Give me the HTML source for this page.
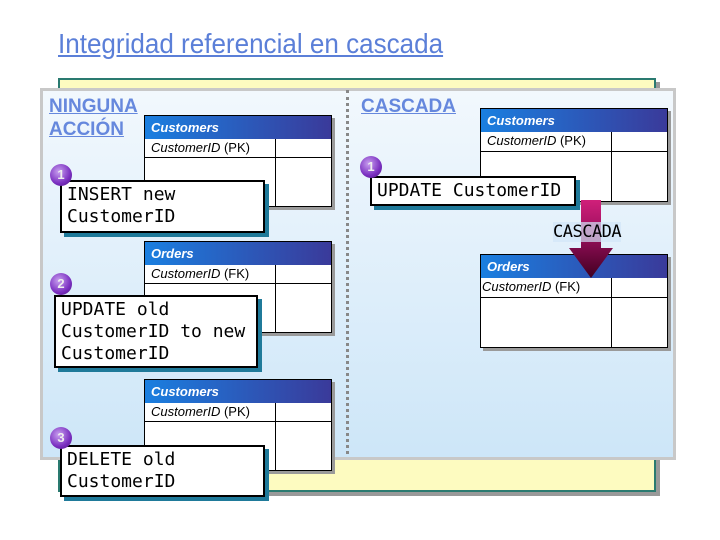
<!DOCTYPE html>
<html><head><meta charset="utf-8"><style>
body{margin:0;width:720px;height:540px;background:#fff;position:relative;overflow:hidden;font-family:"Liberation Sans",sans-serif}
.a{position:absolute}
.title{left:58px;top:28px;font-size:28px;color:#5b7fd8;text-decoration:underline;transform:scaleX(0.93);transform-origin:left top;white-space:nowrap}
.lbl{font-weight:bold;color:#6688dd;text-decoration:underline;font-size:19px;line-height:23px}
.tbl{background:#fff;border:1px solid #000;box-shadow:3px 3px 0 #9a9a9a}
.hd{position:absolute;left:0;right:0;top:0;height:23px;background:linear-gradient(90deg,#1a7fe0,#3a3a9a);color:#fff;font-weight:bold;font-style:italic;font-size:13px;line-height:23px;padding-left:6px;box-sizing:border-box}
.row{position:absolute;left:0;right:0;border-bottom:1px solid #000;font-style:italic;font-size:13px;line-height:18px;padding-left:6px;box-sizing:border-box}
.col{position:absolute;width:1px;background:#000}
.box{background:#fff;border:2px solid #000;box-shadow:4px 4px 0 #1f7a9a;font-family:"DejaVu Sans Mono","Liberation Mono",monospace;font-size:18px;line-height:22px;padding:2px 5px;box-sizing:border-box;white-space:nowrap}
.num{width:22px;height:22px;border-radius:50%;background:radial-gradient(circle at 40% 35%,#c9a0f0,#7a2fc0 60%,#4a1080);color:#eee;font-weight:bold;font-size:13px;text-align:center;line-height:22px}
</style></head><body>
<div class="a title">Integridad referencial en cascada</div>
<div class="a" style="left:62px;top:82px;width:598px;height:414px;background:#999"></div>
<div class="a" style="left:58px;top:78px;width:594px;height:410px;background:#fdfbc0;border:2px solid #2a7a70"></div>
<div class="a" style="left:40px;top:88px;width:630px;height:366px;background:linear-gradient(180deg,#f2f8fd,#cde6f8);border:3px solid #c8c8c8"></div>
<div class="a" style="left:346px;top:90px;width:0;height:364px;border-left:3px dotted #888"></div>

<div class="a lbl" style="left:49px;top:95px">NINGUNA<br>ACCIÓN</div>
<div class="a lbl" style="left:361px;top:95px">CASCADA</div>

<div class="a tbl" style="left:144px;top:115px;width:186px;height:90px"><div class="hd">Customers</div><div class="row" style="top:23px;height:19px">CustomerID <span style="font-style:normal">(PK)</span></div><div class="col" style="left:130px;top:23px;bottom:0"></div></div>
<div class="a tbl" style="left:144px;top:241px;width:186px;height:90px"><div class="hd">Orders</div><div class="row" style="top:23px;height:19px">CustomerID <span style="font-style:normal">(FK)</span></div><div class="col" style="left:130px;top:23px;bottom:0"></div></div>
<div class="a tbl" style="left:144px;top:379px;width:186px;height:90px"><div class="hd">Customers</div><div class="row" style="top:23px;height:19px">CustomerID <span style="font-style:normal">(PK)</span></div><div class="col" style="left:130px;top:23px;bottom:0"></div></div>
<div class="a tbl" style="left:480px;top:108px;width:186px;height:92px"><div class="hd">Customers</div><div class="row" style="top:23px;height:20px">CustomerID <span style="font-style:normal">(PK)</span></div><div class="col" style="left:130px;top:23px;bottom:0"></div></div>
<div class="a tbl" style="left:480px;top:254px;width:186px;height:92px"><div class="hd">Orders</div><div class="row" style="top:23px;height:20px;padding-left:1px">CustomerID <span style="font-style:normal">(FK)</span></div><div class="col" style="left:130px;top:23px;bottom:0"></div></div>

<svg class="a" style="left:565px;top:198px" width="55" height="82"><defs><linearGradient id="g" x1="0" y1="0" x2="0" y2="1"><stop offset="0" stop-color="#d0207a"/><stop offset="0.4" stop-color="#a01060"/><stop offset="1" stop-color="#400020"/></linearGradient></defs><polygon points="16,2 36,2 36,50 48,50 26,80 4,50 16,50" fill="url(#g)"/></svg>
<div class="a" style="left:553px;top:222px;font-family:'DejaVu Sans Mono',monospace;font-size:17px;letter-spacing:-0.5px;background:rgba(210,230,248,.7)">CASCADA</div>

<div class="a box" style="left:60px;top:180px;width:205px;height:53px">INSERT new<br>CustomerID</div>
<div class="a box" style="left:54px;top:295px;width:204px;height:73px">UPDATE old<br>CustomerID to new<br>CustomerID</div>
<div class="a box" style="left:60px;top:445px;width:205px;height:52px">DELETE old<br>CustomerID</div>
<div class="a box" style="left:370px;top:176px;width:206px;height:30px;padding-top:2px">UPDATE CustomerID</div>

<div class="a num" style="left:50px;top:164px">1</div>
<div class="a num" style="left:50px;top:273px">2</div>
<div class="a num" style="left:50px;top:427px">3</div>
<div class="a num" style="left:360px;top:156px">1</div>
</body></html>
